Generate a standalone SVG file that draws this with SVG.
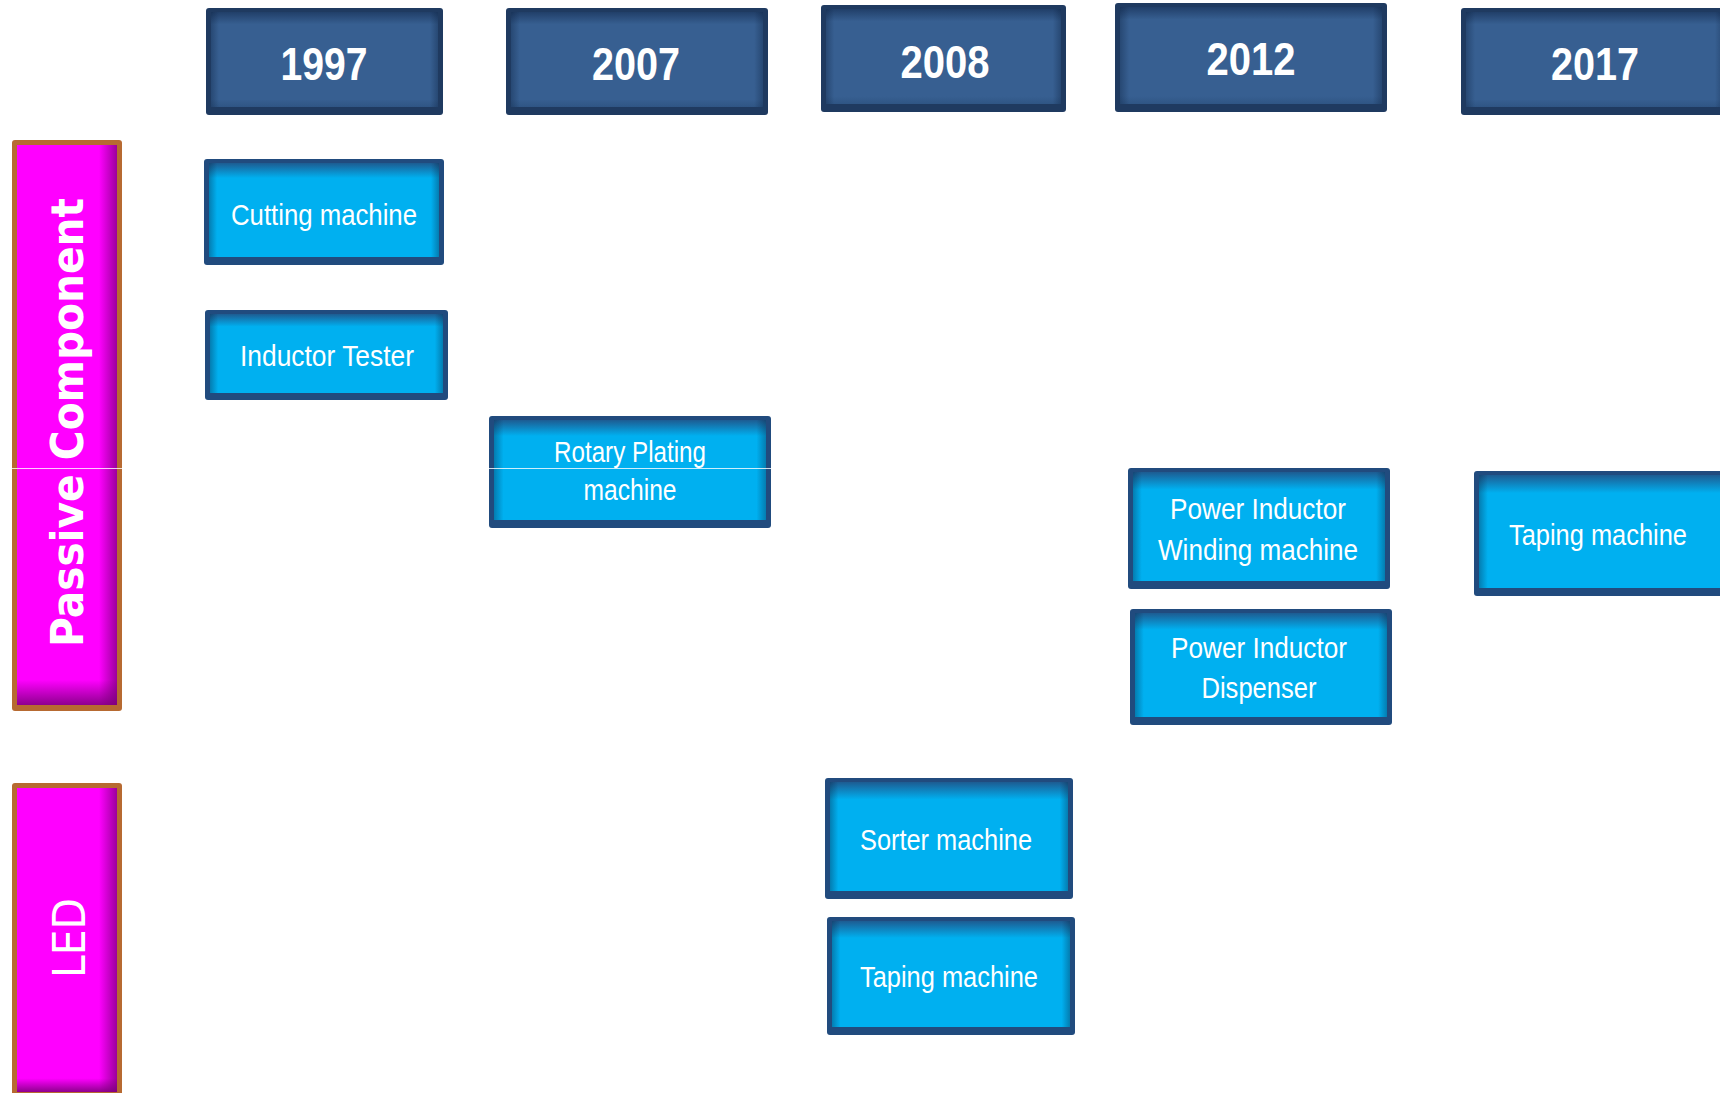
<svg xmlns="http://www.w3.org/2000/svg" width="1720" height="1093" viewBox="0 0 1720 1093">
<style>
  .yo{fill:#1F3A60}
  .yi{fill:url(#yGrad)}
  .ys{fill:url(#sideGrad)}
  .yt{font-family:"Liberation Sans Narrow","Liberation Sans",Arial,sans-serif;font-size:47px;font-weight:bold;fill:#FFFFFF;text-anchor:middle}
  .io{fill:#214B7E}
  .ii{fill:url(#iGrad)}
  .it{font-family:"Liberation Sans Narrow","Liberation Sans",Arial,sans-serif;font-size:29px;fill:#FFFFFF;text-anchor:middle}
  .bo{fill:#B76A31}
  .bi{fill:#FF00FF}
  .bh{fill:url(#barH)}
  .bv{fill:url(#barV)}
  .bt{font-family:"DejaVu Sans","Liberation Sans",sans-serif;fill:#FFFFFF;text-anchor:middle}
</style>
<defs>
  <linearGradient id="yGrad" x1="0" y1="0" x2="0" y2="1">
    <stop offset="0" stop-color="#213F69"/>
    <stop offset="0.13" stop-color="#375F91"/>
    <stop offset="0.92" stop-color="#375F91"/>
    <stop offset="1" stop-color="#2F5584"/>
  </linearGradient>
  <linearGradient id="sideGrad" x1="0" y1="0" x2="1" y2="0">
    <stop offset="0" stop-color="#0A1E3C" stop-opacity="0.35"/>
    <stop offset="0.035" stop-color="#0A1E3C" stop-opacity="0"/>
    <stop offset="0.965" stop-color="#0A1E3C" stop-opacity="0"/>
    <stop offset="1" stop-color="#0A1E3C" stop-opacity="0.35"/>
  </linearGradient>
  <linearGradient id="iGrad" x1="0" y1="0" x2="0" y2="1">
    <stop offset="0" stop-color="#1D5C92"/>
    <stop offset="0.16" stop-color="#00B0F0"/>
    <stop offset="1" stop-color="#00B0F0"/>
  </linearGradient>
  <linearGradient id="barH" x1="0" y1="0" x2="1" y2="0">
    <stop offset="0.82" stop-color="#7A007A" stop-opacity="0"/>
    <stop offset="1" stop-color="#7A007A" stop-opacity="0.75"/>
  </linearGradient>
  <linearGradient id="barV" x1="0" y1="0" x2="0" y2="1">
    <stop offset="0.955" stop-color="#7A007A" stop-opacity="0"/>
    <stop offset="1" stop-color="#7A007A" stop-opacity="0.85"/>
  </linearGradient>
</defs>
<rect width="1720" height="1093" fill="#FFFFFF"/>

<g id="connectors"></g>

<!-- Year headers -->
<g id="year-1997">
  <rect class="yo" x="206" y="8" width="237" height="107" rx="3"/>
  <rect class="yi" x="211" y="12" width="227" height="95"/>
  <rect class="ys" x="211" y="12" width="227" height="95"/>
  <text class="yt" x="324" y="80" textLength="87" lengthAdjust="spacingAndGlyphs">1997</text>
</g>
<g id="year-2007">
  <rect class="yo" x="506" y="8" width="262" height="107" rx="3"/>
  <rect class="yi" x="511" y="12" width="252" height="95"/>
  <rect class="ys" x="511" y="12" width="252" height="95"/>
  <text class="yt" x="636" y="80" textLength="88" lengthAdjust="spacingAndGlyphs">2007</text>
</g>
<g id="year-2008">
  <rect class="yo" x="821" y="5" width="245" height="107" rx="3"/>
  <rect class="yi" x="826" y="9" width="235" height="95"/>
  <rect class="ys" x="826" y="9" width="235" height="95"/>
  <text class="yt" x="945" y="78" textLength="89" lengthAdjust="spacingAndGlyphs">2008</text>
</g>
<g id="year-2012">
  <rect class="yo" x="1115" y="3" width="272" height="109" rx="3"/>
  <rect class="yi" x="1120" y="7" width="262" height="97"/>
  <rect class="ys" x="1120" y="7" width="262" height="97"/>
  <text class="yt" x="1251" y="75" textLength="89" lengthAdjust="spacingAndGlyphs">2012</text>
</g>
<g id="year-2017">
  <rect class="yo" x="1461" y="8" width="268" height="107" rx="3"/>
  <rect class="yi" x="1466" y="12" width="258" height="95"/>
  <rect class="ys" x="1466" y="12" width="258" height="95"/>
  <text class="yt" x="1595" y="80" textLength="88" lengthAdjust="spacingAndGlyphs">2017</text>
</g>

<!-- Category bars -->
<g id="cat-passive">
  <rect class="bo" x="12" y="140" width="110" height="571" rx="3"/>
  <rect class="bi" x="17" y="145" width="100" height="560"/>
  <rect class="bh" x="17" y="145" width="100" height="560"/>
  <rect class="bv" x="17" y="145" width="100" height="560"/>
  <text class="bt" transform="translate(83,422.5) rotate(-90)" x="0" y="0" font-size="44" font-weight="bold" textLength="449" lengthAdjust="spacingAndGlyphs">Passive Component</text>
</g>
<g id="cat-led">
  <rect class="bo" x="12" y="783" width="110" height="314" rx="3"/>
  <rect class="bi" x="17" y="788" width="100" height="304"/>
  <rect class="bh" x="17" y="788" width="100" height="304"/>
  <rect class="bv" x="17" y="788" width="100" height="304"/>
  <text class="bt" transform="translate(85,938) rotate(-90)" x="0" y="0" font-size="44" textLength="80" lengthAdjust="spacingAndGlyphs">LED</text>
</g>

<!-- Machine boxes -->
<g id="cutting-machine">
  <rect class="io" x="204" y="159" width="240" height="106" rx="3"/>
  <rect class="ii" x="209" y="163" width="230" height="94"/>
  <rect class="ys" x="209" y="163" width="230" height="94"/>
  <text class="it" x="324" y="225" textLength="186" lengthAdjust="spacingAndGlyphs">Cutting machine</text>
</g>
<g id="inductor-tester">
  <rect class="io" x="205" y="310" width="243" height="90" rx="3"/>
  <rect class="ii" x="210" y="314" width="233" height="79"/>
  <rect class="ys" x="210" y="314" width="233" height="79"/>
  <text class="it" x="327" y="366" textLength="174" lengthAdjust="spacingAndGlyphs">Inductor Tester</text>
</g>
<g id="rotary-plating">
  <rect class="io" x="489" y="416" width="282" height="112" rx="3"/>
  <rect class="ii" x="494" y="420" width="272" height="100"/>
  <rect class="ys" x="494" y="420" width="272" height="100"/>
  <text class="it" x="630" y="462" textLength="152" lengthAdjust="spacingAndGlyphs">Rotary Plating</text>
  <text class="it" x="630" y="500" textLength="93" lengthAdjust="spacingAndGlyphs">machine</text>
</g>
<g id="power-inductor-winding">
  <rect class="io" x="1128" y="468" width="262" height="121" rx="3"/>
  <rect class="ii" x="1133" y="472" width="252" height="109"/>
  <rect class="ys" x="1133" y="472" width="252" height="109"/>
  <text class="it" x="1258" y="519" textLength="176" lengthAdjust="spacingAndGlyphs">Power Inductor</text>
  <text class="it" x="1258" y="560" textLength="200" lengthAdjust="spacingAndGlyphs">Winding machine</text>
</g>
<g id="taping-2017">
  <rect class="io" x="1474" y="471" width="262" height="125" rx="3"/>
  <rect class="ii" x="1479" y="475" width="252" height="113"/>
  <rect class="ys" x="1479" y="475" width="252" height="113"/>
  <text class="it" x="1598" y="545" textLength="178" lengthAdjust="spacingAndGlyphs">Taping machine</text>
</g>
<g id="power-inductor-dispenser">
  <rect class="io" x="1130" y="609" width="262" height="116" rx="3"/>
  <rect class="ii" x="1135" y="613" width="252" height="104"/>
  <rect class="ys" x="1135" y="613" width="252" height="104"/>
  <text class="it" x="1259" y="658" textLength="176" lengthAdjust="spacingAndGlyphs">Power Inductor</text>
  <text class="it" x="1259" y="698" textLength="115" lengthAdjust="spacingAndGlyphs">Dispenser</text>
</g>
<g id="sorter-machine">
  <rect class="io" x="825" y="778" width="248" height="121" rx="3"/>
  <rect class="ii" x="830" y="782" width="238" height="109"/>
  <rect class="ys" x="830" y="782" width="238" height="109"/>
  <text class="it" x="946" y="850" textLength="172" lengthAdjust="spacingAndGlyphs">Sorter machine</text>
</g>
<g id="taping-led">
  <rect class="io" x="827" y="917" width="248" height="118" rx="3"/>
  <rect class="ii" x="832" y="921" width="238" height="106"/>
  <rect class="ys" x="832" y="921" width="238" height="106"/>
  <text class="it" x="949" y="987" textLength="178" lengthAdjust="spacingAndGlyphs">Taping machine</text>
</g>

<!-- thin light seam visible in the picture -->
<g id="seam" stroke="#FFFFFF" stroke-width="1" opacity="0.8">
  <line x1="12" y1="468.5" x2="122" y2="468.5"/>
  <line x1="489" y1="468.5" x2="771" y2="468.5"/>
</g>
</svg>
